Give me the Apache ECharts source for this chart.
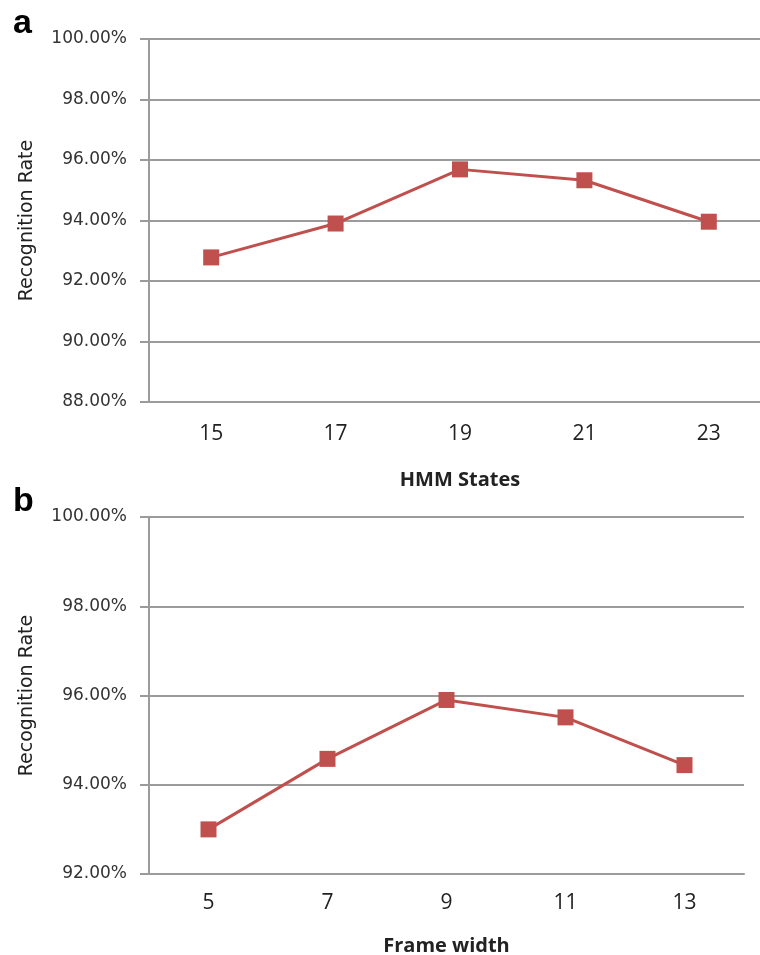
<!DOCTYPE html>
<html>
<head>
<meta charset="utf-8">
<script src="https://cdn.jsdelivr.net/npm/echarts@6/dist/echarts.min.js"></script>
<style>
  html, body { margin: 0; padding: 0; background: #fff; }
  #chart { width: 760px; height: 955px; }
</style>
</head>
<body>
<div id="chart"></div>
<script>
// panel a: recognition rate vs number of HMM states
const hmmStates = ['15', '17', '19', '21', '23']
const hmmRates = [92.78, 93.9, 95.69, 95.33, 93.96]

// panel b: recognition rate vs frame width
const frameWidths = ['5', '7', '9', '11', '13']
const frameRates = [93.0, 94.58, 95.9, 95.51, 94.44]

const red = '#c0504d'
const gridGray = '#9b9b9b'

function yAxisFor(gridIndex, min, max) {
  return {
    type: 'value',
    gridIndex: gridIndex,
    min: min,
    max: max,
    interval: 2,
    name: 'Recognition Rate',
    nameLocation: 'middle',
    nameGap: 112,
    nameTextStyle: { fontFamily: 'DejaVu Sans', fontSize: 19, color: '#222' },
    axisLine: { show: true, lineStyle: { color: gridGray, width: 2 } },
    axisTick: { show: true, length: 9, lineStyle: { color: gridGray, width: 2 } },
    axisLabel: {
      margin: 22,
      fontFamily: 'DejaVu Sans',
      fontSize: 17,
      color: '#333',
      formatter: function(v) {
        return v.toFixed(2) + '%'
      }
    },
    splitLine: { show: true, lineStyle: { color: gridGray, width: 2 } }
  }
}

function xAxisFor(gridIndex, cats, name, nameGap, labelMargin) {
  return {
    type: 'category',
    gridIndex: gridIndex,
    data: cats,
    boundaryGap: true,
    name: name,
    nameLocation: 'middle',
    nameGap: nameGap,
    nameTextStyle: { fontFamily: 'Open Sans', fontWeight: 'bold', fontSize: 20, color: '#222' },
    axisLine: { show: true, lineStyle: { color: gridGray, width: 2 } },
    axisTick: { show: false },
    axisLabel: { margin: labelMargin, fontFamily: 'Open Sans', fontSize: 21, color: '#222' },
    splitLine: { show: false }
  }
}

function seriesFor(index, values) {
  return {
    type: 'line',
    xAxisIndex: index,
    yAxisIndex: index,
    data: values,
    symbol: 'rect',
    symbolSize: 16,
    lineStyle: { color: red, width: 3 },
    itemStyle: { color: red }
  }
}

const chart = echarts.init(document.getElementById('chart'))
const option = {
  backgroundColor: '#fff',
  animation: false,
  graphic: [
    {
      type: 'text',
      left: 13,
      top: 7,
      style: { text: 'a', fontFamily: 'Liberation Sans', fontWeight: 'bold', fontSize: 34, fill: '#000' }
    },
    {
      type: 'text',
      left: 13,
      top: 485,
      style: { text: 'b', fontFamily: 'Liberation Sans', fontWeight: 'bold', fontSize: 34, fill: '#000' }
    }
  ],
  grid: [
    { left: 149, top: 39, width: 622, height: 363, outerBoundsMode: 'none' },
    { left: 149, top: 517, width: 595, height: 357, outerBoundsMode: 'none' }
  ],
  xAxis: [
    xAxisFor(0, hmmStates, 'HMM States', 68, 22),
    xAxisFor(1, frameWidths, 'Frame width', 62, 19)
  ],
  yAxis: [yAxisFor(0, 88, 100), yAxisFor(1, 92, 100)],
  series: [seriesFor(0, hmmRates), seriesFor(1, frameRates)]
}
chart.setOption(option)
</script>
</body>
</html>
